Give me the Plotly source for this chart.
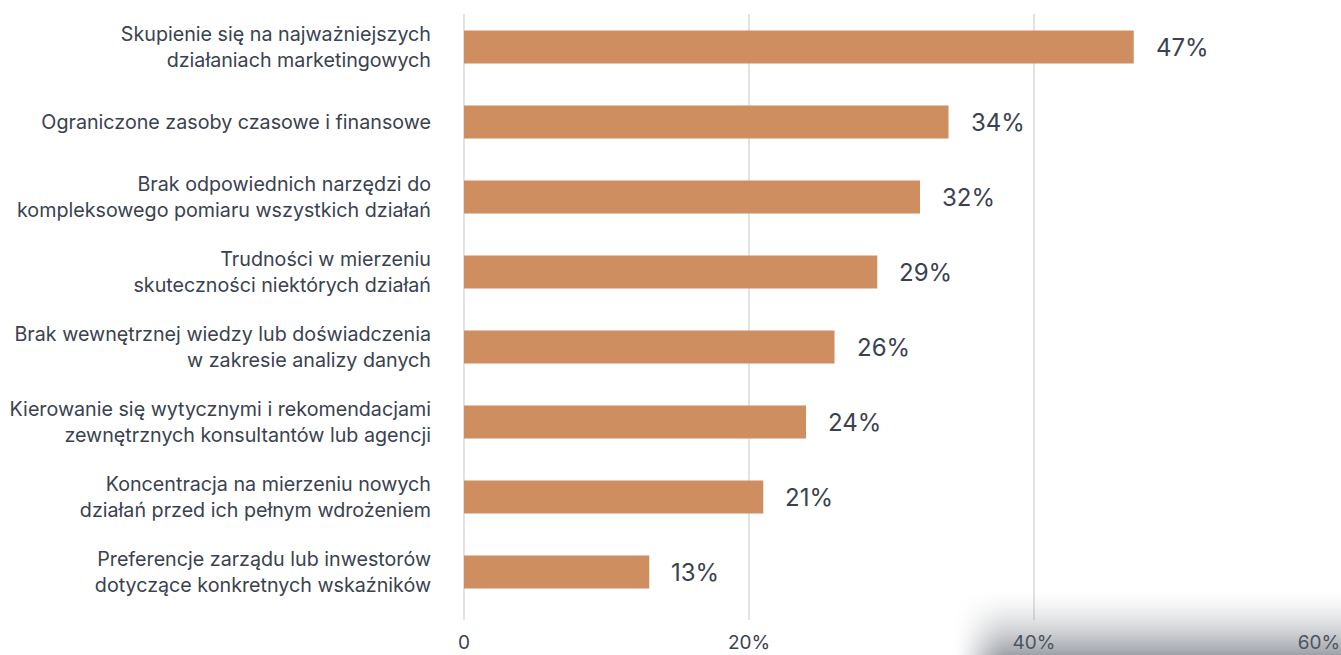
import base64
import struct
import zlib

import numpy as np
import plotly.graph_objects as go

categories = [
    "Skupienie się na najważniejszych<br>działaniach marketingowych",
    "Ograniczone zasoby czasowe i finansowe",
    "Brak odpowiednich narzędzi do<br>kompleksowego pomiaru wszystkich działań",
    "Trudności w mierzeniu<br>skuteczności niektórych działań",
    "Brak wewnętrznej wiedzy lub doświadczenia<br>w zakresie analizy danych",
    "Kierowanie się wytycznymi i rekomendacjami<br>zewnętrznych konsultantów lub agencji",
    "Koncentracja na mierzeniu nowych<br>działań przed ich pełnym wdrożeniem",
    "Preferencje zarządu lub inwestorów<br>dotyczące konkretnych wskaźników",
]
values = [47, 34, 32, 29, 26, 24, 21, 13]
tick_values = [0, 20, 40, 60]
tick_labels = ["0", "20%", "40%", "60%"]

BAR_COLOR = "#CF8E60"
TEXT_COLOR = "#3A4250"
GRID_COLOR = "#E3E3E3"
FONT = "Inter, 'Open Sans', sans-serif"

W, H = 1341, 655
ML, MR, MT, MB = 464, 22, 14, 35


def shadow_png(w, h):
    # soft grey haze in the lower-right corner
    xs = np.arange(w)[None, :].astype(float)
    ys = np.arange(h)[:, None].astype(float)
    fx = np.clip((xs - 10) / 60.0, 0, 1)
    fx = fx * fx * (3 - 2 * fx)
    fy = np.clip((ys - 0) / (h - 1), 0, 1)
    fy = fy ** 1.6
    a = 0.62 * fx * fy
    rgba = np.zeros((h, w, 4), dtype=np.uint8)
    rgba[..., 0] = 100
    rgba[..., 1] = 106
    rgba[..., 2] = 116
    rgba[..., 3] = (a * 255).astype(np.uint8)
    raw = b"".join(b"\x00" + rgba[r].tobytes() for r in range(h))

    def chunk(tag, data):
        c = struct.pack(">I", len(data)) + tag + data
        return c + struct.pack(">I", zlib.crc32(tag + data) & 0xFFFFFFFF)

    png = b"\x89PNG\r\n\x1a\n"
    png += chunk(b"IHDR", struct.pack(">IIBBBBB", w, h, 8, 6, 0, 0, 0))
    png += chunk(b"IDAT", zlib.compress(raw, 9))
    png += chunk(b"IEND", b"")
    return "data:image/png;base64," + base64.b64encode(png).decode()


idx = list(range(len(categories)))

fig = go.Figure(
    go.Bar(
        x=values,
        y=idx,
        orientation="h",
        marker=dict(color=BAR_COLOR, line=dict(width=0)),
        width=0.44,
        hoverinfo="skip",
    )
)

for i, v in zip(idx, values):
    fig.add_annotation(
        x=v, y=i, text=f"{v}%", showarrow=False, xanchor="left", xshift=20,
        font=dict(family=FONT, size=24, color=TEXT_COLOR),
    )

pw = W - ML - MR
ph = H - MT - MB
sx0, sy0 = 940, 588
fig.add_layout_image(
    source=shadow_png(W - sx0, H - sy0),
    xref="paper", yref="paper",
    x=(sx0 - ML) / pw, y=(H - MB - sy0) / ph,
    sizex=(W - sx0) / pw, sizey=(H - sy0) / ph,
    xanchor="left", yanchor="top",
    sizing="stretch", layer="above",
)

fig.update_layout(
    width=W, height=H,
    margin=dict(l=ML, r=MR, t=MT, b=MB),
    paper_bgcolor="white", plot_bgcolor="white",
    showlegend=False,
    font=dict(family=FONT, color=TEXT_COLOR),
    xaxis=dict(
        range=[0, 60], tickvals=tick_values, ticktext=tick_labels,
        showgrid=True, gridcolor=GRID_COLOR, gridwidth=2,
        zeroline=True, zerolinecolor=GRID_COLOR, zerolinewidth=2,
        showline=False, ticks="", automargin=False, layer="below traces",
        tickfont=dict(size=19, color=TEXT_COLOR), ticklabelstandoff=9,
    ),
    yaxis=dict(
        range=[7.64, -0.44], tickvals=idx, ticktext=categories,
        showgrid=False, zeroline=False, showline=False, ticks="", automargin=False,
        tickfont=dict(size=19.7, color=TEXT_COLOR), ticklabelstandoff=32,
    ),
)

fig.write_html("out.html")
